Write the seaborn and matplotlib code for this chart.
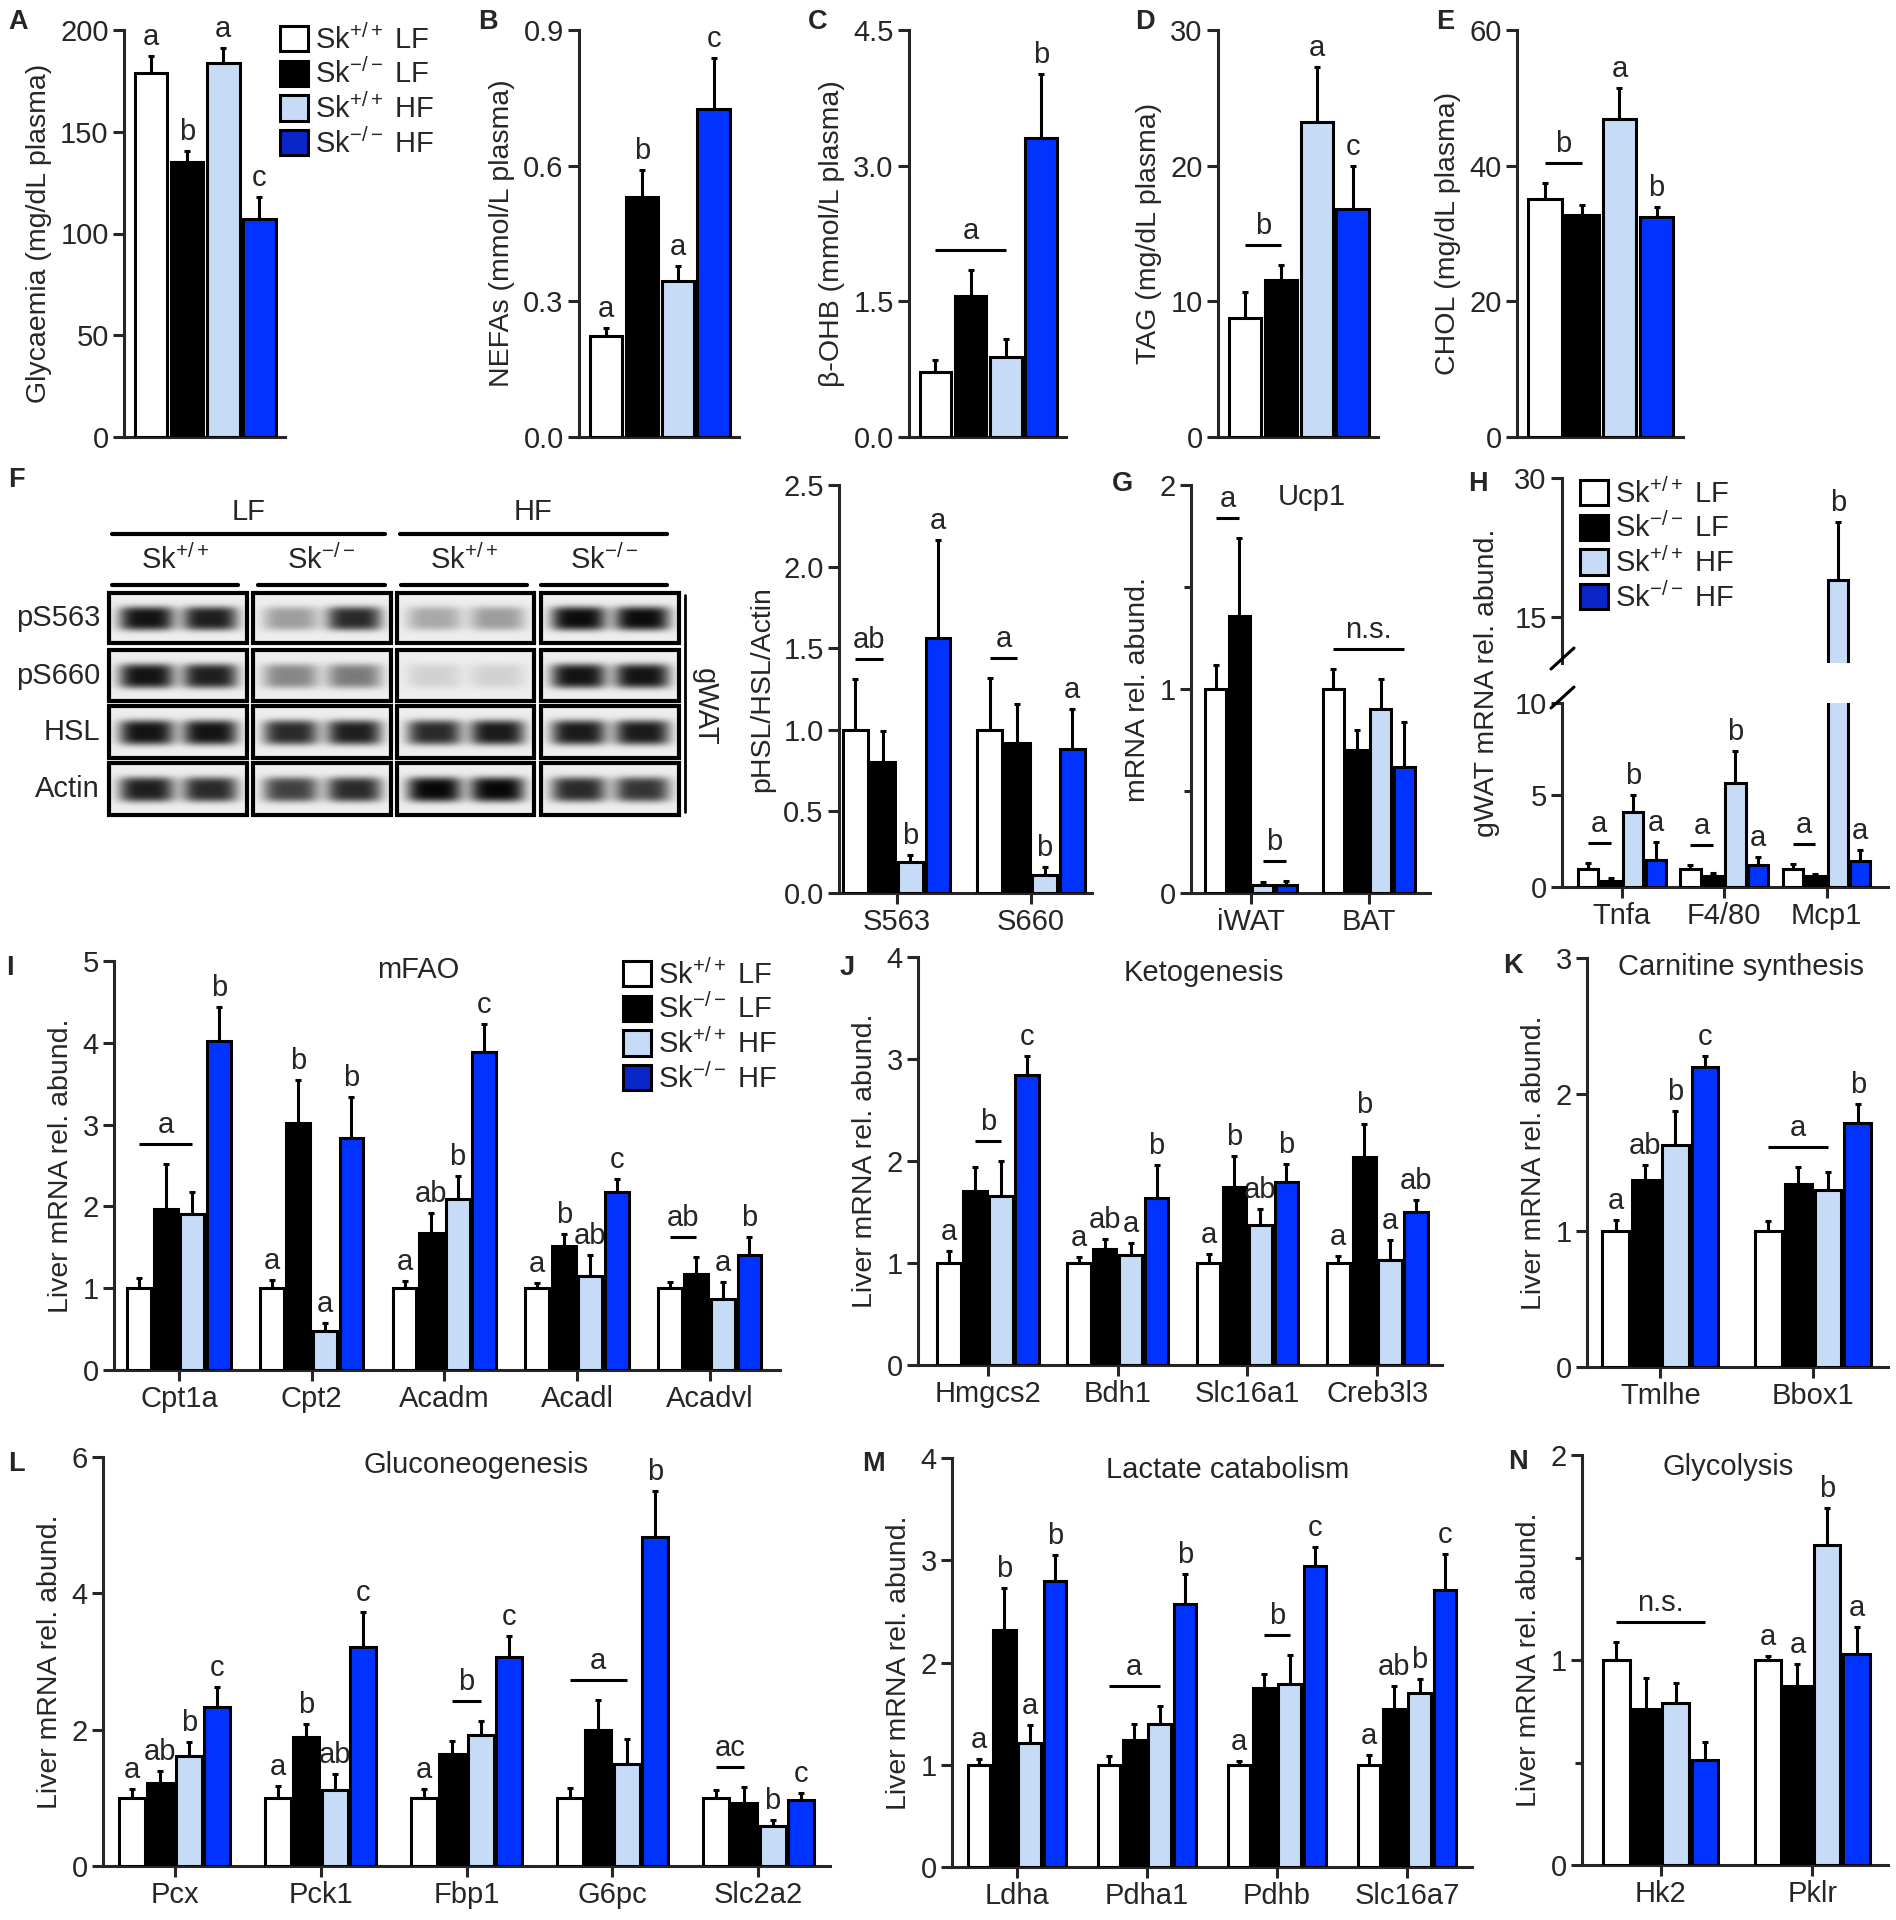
import numpy as np
import pandas as pd
import matplotlib
matplotlib.use("Agg")
import matplotlib.pyplot as plt
import seaborn as sns
from matplotlib.patches import Patch, Rectangle

W, H = 1896, 1920

##### DATA

groups = ["Sk+/+ LF", "Sk-/- LF", "Sk+/+ HF", "Sk-/- HF"]
group_labels = [r"Sk$^{+/+}$ LF", r"Sk$^{-/-}$ LF", r"Sk$^{+/+}$ HF", r"Sk$^{-/-}$ HF"]
colors = ["#ffffff", "#000000", "#c6dcf6", "#0033ff"]
legend_colors = ["#ffffff", "#000000", "#c6dcf6", "#0a25c8"]

# A-E plasma (one category, 4 groups)
glyc_mean = [[179, 135, 184, 107]]
glyc_sem = [[8, 5.5, 7, 11]]
nefa_mean = [[0.223, 0.531, 0.344, 0.726]]
nefa_sem = [[0.018, 0.06, 0.034, 0.112]]
ohb_mean = [[0.72, 1.56, 0.88, 3.31]]
ohb_sem = [[0.13, 0.29, 0.2, 0.7]]
tag_mean = [[8.8, 11.6, 23.2, 16.8]]
tag_sem = [[1.9, 1.1, 4.1, 3.2]]
chol_mean = [[35.1, 32.7, 46.9, 32.4]]
chol_sem = [[2.3, 1.5, 4.5, 1.5]]

# F pHSL quantification
phsl_cats = ["S563", "S660"]
phsl_mean = [[1.0, 0.8, 0.19, 1.56], [1.0, 0.92, 0.11, 0.88]]
phsl_sem = [[0.31, 0.19, 0.04, 0.6], [0.32, 0.24, 0.05, 0.25]]

# F blot
blot_rows = ["pS563", "pS660", "HSL", "Actin"]
blot_lanes = [r"Sk$^{+/+}$", r"Sk$^{-/-}$", r"Sk$^{+/+}$", r"Sk$^{-/-}$"]
blot_diets = ["LF", "HF"]
band_levels = [
    [0.95, 0.90, 0.35, 0.85, 0.30, 0.35, 0.98, 0.98],
    [0.95, 0.90, 0.45, 0.50, 0.12, 0.12, 0.95, 0.95],
    [0.95, 0.95, 0.85, 0.90, 0.85, 0.92, 0.92, 0.92],
    [0.90, 0.85, 0.75, 0.85, 1.00, 1.00, 0.85, 0.80],
]

# G Ucp1
ucp_cats = ["iWAT", "BAT"]
ucp_mean = [[1.0, 1.36, 0.04, 0.04], [1.0, 0.70, 0.90, 0.62]]
ucp_sem = [[0.12, 0.38, 0.015, 0.02], [0.1, 0.1, 0.15, 0.22]]

# H gWAT inflammation
infl_cats = ["Tnfa", "F4/80", "Mcp1"]
infl_mean = [[1.0, 0.35, 4.05, 1.47], [1.0, 0.62, 5.65, 1.2], [1.0, 0.6, 19.0, 1.4]]
infl_sem = [[0.3, 0.15, 0.95, 0.95], [0.22, 0.12, 1.75, 0.42], [0.25, 0.12, 6.2, 0.6]]

# I mFAO
fao_cats = ["Cpt1a", "Cpt2", "Acadm", "Acadl", "Acadvl"]
fao_mean = [[1.0, 1.97, 1.91, 4.02], [1.0, 3.02, 0.48, 2.84], [1.0, 1.68, 2.09, 3.89],
            [1.0, 1.51, 1.15, 2.18], [1.0, 1.17, 0.87, 1.40]]
fao_sem = [[0.13, 0.55, 0.26, 0.42], [0.1, 0.52, 0.09, 0.5], [0.09, 0.24, 0.28, 0.34],
           [0.06, 0.15, 0.25, 0.16], [0.08, 0.21, 0.2, 0.23]]

# J ketogenesis
keto_cats = ["Hmgcs2", "Bdh1", "Slc16a1", "Creb3l3"]
keto_mean = [[1.0, 1.71, 1.66, 2.84], [1.0, 1.14, 1.08, 1.64], [1.0, 1.75, 1.37, 1.79],
             [1.0, 2.04, 1.03, 1.50]]
keto_sem = [[0.12, 0.23, 0.34, 0.19], [0.06, 0.1, 0.12, 0.32], [0.09, 0.3, 0.16, 0.18],
            [0.07, 0.32, 0.2, 0.12]]

# K carnitine synthesis
carn_cats = ["Tmlhe", "Bbox1"]
carn_mean = [[1.0, 1.37, 1.63, 2.20], [1.0, 1.34, 1.30, 1.79]]
carn_sem = [[0.08, 0.11, 0.25, 0.08], [0.07, 0.13, 0.13, 0.14]]

# L gluconeogenesis
gng_cats = ["Pcx", "Pck1", "Fbp1", "G6pc", "Slc2a2"]
gng_mean = [[1.0, 1.22, 1.62, 2.33], [1.0, 1.89, 1.11, 3.21], [1.0, 1.64, 1.92, 3.06],
            [1.0, 2.0, 1.49, 4.83], [1.0, 0.93, 0.59, 0.97]]
gng_sem = [[0.13, 0.18, 0.2, 0.29], [0.17, 0.2, 0.24, 0.51], [0.13, 0.2, 0.21, 0.32],
           [0.14, 0.44, 0.37, 0.67], [0.12, 0.23, 0.09, 0.1]]

# M lactate catabolism
lac_cats = ["Ldha", "Pdha1", "Pdhb", "Slc16a7"]
lac_mean = [[1.0, 2.32, 1.21, 2.80], [1.0, 1.24, 1.40, 2.57], [1.0, 1.75, 1.79, 2.94],
            [1.0, 1.55, 1.70, 2.71]]
lac_sem = [[0.06, 0.41, 0.18, 0.25], [0.09, 0.16, 0.17, 0.3], [0.04, 0.14, 0.28, 0.19],
           [0.1, 0.22, 0.14, 0.35]]

# N glycolysis
gly_cats = ["Hk2", "Pklr"]
gly_mean = [[1.0, 0.76, 0.79, 0.51], [1.0, 0.875, 1.56, 1.03]]
gly_sem = [[0.09, 0.15, 0.1, 0.09], [0.02, 0.105, 0.18, 0.13]]

# statistics letters: (category, first group, last group, text)
glyc_notes = [(0, 0, 0, "a"), (0, 1, 1, "b"), (0, 2, 2, "a"), (0, 3, 3, "c")]
nefa_notes = [(0, 0, 0, "a"), (0, 1, 1, "b"), (0, 2, 2, "a"), (0, 3, 3, "c")]
ohb_notes = [(0, 0, 2, "a"), (0, 3, 3, "b")]
tag_notes = [(0, 0, 1, "b"), (0, 2, 2, "a"), (0, 3, 3, "c")]
chol_notes = [(0, 0, 1, "b"), (0, 2, 2, "a"), (0, 3, 3, "b")]
phsl_notes = [(0, 0, 1, "ab"), (0, 2, 2, "b"), (0, 3, 3, "a"),
              (1, 0, 1, "a"), (1, 2, 2, "b"), (1, 3, 3, "a")]
ucp_notes = [(0, 0, 1, "a"), (0, 2, 3, "b"), (1, 0, 3, "n.s.")]
infl_notes = [(0, 0, 1, "a"), (0, 2, 2, "b"), (0, 3, 3, "a"),
              (1, 0, 1, "a"), (1, 2, 2, "b"), (1, 3, 3, "a"),
              (2, 0, 1, "a"), (2, 2, 2, "b"), (2, 3, 3, "a")]
fao_notes = [(0, 0, 2, "a"), (0, 3, 3, "b"),
             (1, 0, 0, "a"), (1, 1, 1, "b"), (1, 2, 2, "a"), (1, 3, 3, "b"),
             (2, 0, 0, "a"), (2, 1, 1, "ab"), (2, 2, 2, "b"), (2, 3, 3, "c"),
             (3, 0, 0, "a"), (3, 1, 1, "b"), (3, 2, 2, "ab"), (3, 3, 3, "c"),
             (4, 0, 1, "ab"), (4, 2, 2, "a"), (4, 3, 3, "b")]
keto_notes = [(0, 0, 0, "a"), (0, 1, 2, "b"), (0, 3, 3, "c"),
              (1, 0, 0, "a"), (1, 1, 1, "ab"), (1, 2, 2, "a"), (1, 3, 3, "b"),
              (2, 0, 0, "a"), (2, 1, 1, "b"), (2, 2, 2, "ab"), (2, 3, 3, "b"),
              (3, 0, 0, "a"), (3, 1, 1, "b"), (3, 2, 2, "a"), (3, 3, 3, "ab")]
carn_notes = [(0, 0, 0, "a"), (0, 1, 1, "ab"), (0, 2, 2, "b"), (0, 3, 3, "c"),
              (1, 0, 2, "a"), (1, 3, 3, "b")]
gng_notes = [(0, 0, 0, "a"), (0, 1, 1, "ab"), (0, 2, 2, "b"), (0, 3, 3, "c"),
             (1, 0, 0, "a"), (1, 1, 1, "b"), (1, 2, 2, "ab"), (1, 3, 3, "c"),
             (2, 0, 0, "a"), (2, 1, 2, "b"), (2, 3, 3, "c"),
             (3, 0, 2, "a"), (3, 3, 3, "b"),
             (4, 0, 1, "ac"), (4, 2, 2, "b"), (4, 3, 3, "c")]
lac_notes = [(0, 0, 0, "a"), (0, 1, 1, "b"), (0, 2, 2, "a"), (0, 3, 3, "b"),
             (1, 0, 2, "a"), (1, 3, 3, "b"),
             (2, 0, 0, "a"), (2, 1, 2, "b"), (2, 3, 3, "c"),
             (3, 0, 0, "a"), (3, 1, 1, "ab"), (3, 2, 2, "b"), (3, 3, 3, "c")]
gly_notes = [(0, 0, 3, "n.s."),
             (1, 0, 0, "a"), (1, 1, 1, "a"), (1, 2, 2, "b"), (1, 3, 3, "a")]


##### STYLE

sns.set_style("ticks")
plt.rcParams["font.family"] = ["Liberation Sans", "DejaVu Sans"]
plt.rcParams["mathtext.fontset"] = "custom"
plt.rcParams["mathtext.rm"] = "Liberation Sans"
plt.rcParams["mathtext.it"] = "Liberation Sans:italic"
plt.rcParams["mathtext.bf"] = "Liberation Sans:bold"

FS = 21
LW = 2.2

fig = plt.figure(figsize=(W / 100, H / 100), dpi=100)


def px_axes(left, right, top, bottom):
    return fig.add_axes([left / W, 1 - bottom / H, (right - left) / W, (bottom - top) / H])


def draw_bars(ax, cats, means, sems, width=0.8, gap=0.1):
    rows = []
    for i, c in enumerate(cats):
        for h, g in enumerate(groups):
            rows.append({"gene": c, "group": g, "value": means[i][h]})
    df = pd.DataFrame(rows)
    sns.barplot(data=df, x="gene", y="value", hue="group", order=cats, hue_order=groups,
                palette=colors, saturation=1, edgecolor="black", linewidth=2.2,
                errorbar=None, width=width, gap=gap, legend=False, ax=ax, zorder=3)
    centers = {}
    for h, cont in enumerate(ax.containers[:len(groups)]):
        for i, bar in enumerate(cont):
            centers[(i, h)] = bar.get_x() + bar.get_width() / 2
    xs, tops, errs = [], [], []
    for (i, h), xc in centers.items():
        xs.append(xc)
        tops.append(means[i][h])
        errs.append(sems[i][h])
    ax.errorbar(xs, tops, yerr=[np.zeros(len(errs)), errs], fmt="none", ecolor="black",
                elinewidth=2.2, capsize=2.5, capthick=2.2, zorder=2)
    return centers


def style(ax, ylim, yticks, yfmt, xlim, xticks=True, minor=None, ylabel=None):
    ax.set_ylim(*ylim)
    ax.set_yticks(yticks)
    ax.set_yticklabels([yfmt.format(t) for t in yticks])
    if minor is not None:
        ax.set_yticks(minor, minor=True)
    ax.set_xlim(*xlim)
    sns.despine(ax=ax)
    for s in ["left", "bottom"]:
        ax.spines[s].set_linewidth(LW)
    ax.tick_params(axis="both", which="both", width=LW, length=8, labelsize=FS, pad=3)
    ax.tick_params(axis="y", which="minor", length=5)
    if not xticks:
        ax.tick_params(axis="x", length=0, labelbottom=False)
    ax.set_xlabel("")
    ax.set_ylabel(ylabel if ylabel else "", fontsize=20.5, labelpad=6)


def letters(ax, centers, means, sems, notes, h_px, ylim, pad_txt=5, pad_line=20):
    upp = (ylim[1] - ylim[0]) / h_px
    for i, h0, h1, txt in notes:
        top = max(means[i][h] + sems[i][h] for h in range(h0, h1 + 1))
        if top < ylim[0] or top > ylim[1]:
            continue
        c0, c1 = centers[(i, h0)], centers[(i, h1)]
        if h0 == h1:
            ax.text(c0, top + pad_txt * upp, txt, ha="center", va="bottom", fontsize=FS)
        else:
            yl = top + pad_line * upp
            ax.plot([c0, c1], [yl, yl], color="black", lw=LW, clip_on=False,
                    solid_capstyle="butt")
            ax.text((c0 + c1) / 2, yl + pad_txt * upp, txt, ha="center", va="bottom",
                    fontsize=FS)


def panel(box, cats, means, sems, notes, ylim, yticks, yfmt, xlim, ylabel,
          width=0.8, gap=0.1, xticks=True, minor=None):
    left, right, top, bottom = box
    ax = px_axes(left, right, top, bottom)
    centers = draw_bars(ax, cats, means, sems, width, gap)
    style(ax, ylim, yticks, yfmt, xlim, xticks=xticks, minor=minor, ylabel=ylabel)
    letters(ax, centers, means, sems, notes, bottom - top, ylim)
    return ax


def legend_at(x, y, cols):
    handles = [Patch(facecolor=c, edgecolor="black", linewidth=LW) for c in cols]
    fig.legend(handles, group_labels, loc="upper left", bbox_to_anchor=(x / W, 1 - y / H),
               frameon=False, fontsize=FS, handlelength=0.95, handleheight=0.95,
               handletextpad=0.25, labelspacing=0.14, borderpad=0, borderaxespad=0)


##### ROW 1: plasma
one = [""]
row1_xlim = (-0.54, 0.53)
panel((124, 285, 30, 437), one, glyc_mean, glyc_sem, glyc_notes, (0, 200),
      [0, 50, 100, 150, 200], "{:.0f}", row1_xlim, "Glycaemia (mg/dL plasma)",
      width=0.96, xticks=False)
panel((579, 739, 30, 437), one, nefa_mean, nefa_sem, nefa_notes, (0, 0.9),
      [0, 0.3, 0.6, 0.9], "{:.1f}", row1_xlim, "NEFAs (mmol/L plasma)",
      width=0.96, xticks=False)
panel((909, 1066, 30, 437), one, ohb_mean, ohb_sem, ohb_notes, (0, 4.5),
      [0, 1.5, 3.0, 4.5], "{:.1f}", row1_xlim, "β-OHB (mmol/L plasma)",
      width=0.96, xticks=False)
panel((1218, 1378, 30, 437), one, tag_mean, tag_sem, tag_notes, (0, 30),
      [0, 10, 20, 30], "{:.0f}", row1_xlim, "TAG (mg/dL plasma)",
      width=0.96, xticks=False)
panel((1517, 1683, 30, 437), one, chol_mean, chol_sem, chol_notes, (0, 60),
      [0, 20, 40, 60], "{:.0f}", row1_xlim, "CHOL (mg/dL plasma)",
      width=0.96, xticks=False)
legend_at(280, 24, legend_colors)

##### ROW 2
panel((839, 1092, 485, 893), phsl_cats, phsl_mean, phsl_sem, phsl_notes, (0, 2.5),
      [0, 0.5, 1.0, 1.5, 2.0, 2.5], "{:.1f}", (-0.43, 1.455), "pHSL/HSL/Actin", width=0.82)
panel((1191, 1430, 485, 893), ucp_cats, ucp_mean, ucp_sem, ucp_notes, (0, 2),
      [0, 1, 2], "{:.0f}", (-0.51, 1.52), "mRNA rel. abund.", minor=[0.5, 1.5])

# H with broken axis
ax_lo = px_axes(1562, 1888, 703, 887)
c_lo = draw_bars(ax_lo, infl_cats, infl_mean, infl_sem, width=0.88)
style(ax_lo, (0, 10), [0, 5, 10], "{:.0f}", (-0.585, 2.6))
letters(ax_lo, c_lo, infl_mean, infl_sem, infl_notes, 887 - 703, (0, 10))
ax_up = px_axes(1562, 1888, 478, 663)
c_up = draw_bars(ax_up, infl_cats, infl_mean, infl_sem, width=0.88)
style(ax_up, (10, 30), [15, 30], "{:.0f}", (-0.585, 2.6), xticks=False)
ax_up.spines["bottom"].set_visible(False)
letters(ax_up, c_up, infl_mean, infl_sem, infl_notes, 663 - 478, (10, 30))
legend_at(1580, 478, legend_colors)

##### ROW 3
panel((114, 780, 961, 1370), fao_cats, fao_mean, fao_sem, fao_notes, (0, 5),
      [0, 1, 2, 3, 4, 5], "{:.0f}", (-0.49, 4.53), "Liver mRNA rel. abund.")
legend_at(623, 959, legend_colors)
panel((918, 1442, 957, 1365), keto_cats, keto_mean, keto_sem, keto_notes, (0, 4),
      [0, 1, 2, 3, 4], "{:.0f}", (-0.54, 3.5), "Liver mRNA rel. abund.")
panel((1587, 1888, 958, 1367), carn_cats, carn_mean, carn_sem, carn_notes, (0, 3),
      [0, 1, 2, 3], "{:.0f}", (-0.48, 1.49), "Liver mRNA rel. abund.", width=0.78)

##### ROW 4
panel((103, 830, 1457, 1866), gng_cats, gng_mean, gng_sem, gng_notes, (0, 6),
      [0, 2, 4, 6], "{:.0f}", (-0.49, 4.49), "Liver mRNA rel. abund.", width=0.78)
panel((952, 1472, 1458, 1867), lac_cats, lac_mean, lac_sem, lac_notes, (0, 4),
      [0, 1, 2, 3, 4], "{:.0f}", (-0.5, 3.5), "Liver mRNA rel. abund.", width=0.78)
panel((1582, 1888, 1455, 1865), gly_cats, gly_mean, gly_sem, gly_notes, (0, 2),
      [0, 1, 2], "{:.0f}", (-0.52, 1.5), "Liver mRNA rel. abund.", width=0.78,
      minor=[0.5, 1.5])

##### OVERLAY (pixel coordinates): blot, titles, panel letters
ov = fig.add_axes([0, 0, 1, 1])
ov.patch.set_visible(False)
ov.set_axis_off()

box_cols = [(109, 247), (253, 391), (397, 534), (541, 679)]
box_rows = [(593, 643), (650, 701), (706, 758), (763, 815)]
for r, (y0, y1) in enumerate(box_rows):
    for c, (x0, x1) in enumerate(box_cols):
        w, h = x1 - x0, y1 - y0
        xx = np.arange(w)[None, :]
        yy = np.arange(h)[:, None]
        img = np.full((h, w), 0.93)
        for k in range(2):
            cx = w * (0.27 + 0.46 * k)
            prof = np.exp(-((xx - cx) / (0.2 * w)) ** 4) * np.exp(-((yy - h / 2) / (0.24 * h)) ** 4)
            img = img - band_levels[r][2 * c + k] * 0.9 * prof
        ov.imshow(np.clip(img, 0, 1), cmap="gray", vmin=0, vmax=1, aspect="auto",
                  extent=(x0, x1, y1, y0), origin="upper", interpolation="bilinear")
        ov.add_patch(Rectangle((x0, y0), w, h, fill=False, edgecolor="black", lw=3))
    ov.text(100, (y0 + y1) / 2, blot_rows[r], ha="right", va="center", fontsize=FS)

for k, (x0, x1) in enumerate([(112, 385), (400, 667)]):
    ov.plot([x0, x1], [534, 534], color="black", lw=3)
    ov.text((x0 + x1) / 2, 512, blot_diets[k], ha="center", va="center", fontsize=FS)
for k, (x0, x1) in enumerate([(112, 238), (258, 385), (401, 527), (541, 667)]):
    ov.plot([x0, x1], [585, 585], color="black", lw=3)
    ov.text((x0 + x1) / 2, 560, blot_lanes[k], ha="center", va="center", fontsize=FS)
ov.plot([685, 685], [595, 812], color="black", lw=2)
ov.text(705, 707, "gWAT", rotation=-90, ha="center", va="center", fontsize=FS)

# broken-axis marks for H
ov.plot([1551, 1574], [708, 687], color="black", lw=LW)
ov.plot([1551, 1574], [669, 648], color="black", lw=LW)
ov.text(1487, 683, "gWAT mRNA rel. abund.", rotation=90, ha="center", va="center",
        fontsize=20.5)

titles = [(1312, 497, "Ucp1"), (418, 970, "mFAO"), (1204, 973, "Ketogenesis"),
          (1741, 967, "Carnitine synthesis"), (476, 1465, "Gluconeogenesis"),
          (1228, 1470, "Lactate catabolism"), (1728, 1467, "Glycolysis")]
for x, y, t in titles:
    ov.text(x, y, t, ha="center", va="center", fontsize=FS)

panel_letters = [(8, 22, "A"), (478, 22, "B"), (808, 22, "C"), (1135, 22, "D"),
                 (1436, 22, "E"), (8, 480, "F"), (1112, 484, "G"), (1468, 484, "H"),
                 (6, 968, "I"), (840, 968, "J"), (1503, 966, "K"), (8, 1464, "L"),
                 (862, 1464, "M"), (1508, 1462, "N")]
for x, y, t in panel_letters:
    ov.text(x, y, t, ha="left", va="center", fontsize=19.5, fontweight="bold")

ov.set_xlim(0, W)
ov.set_ylim(H, 0)

plt.savefig("out.png", dpi=100)
